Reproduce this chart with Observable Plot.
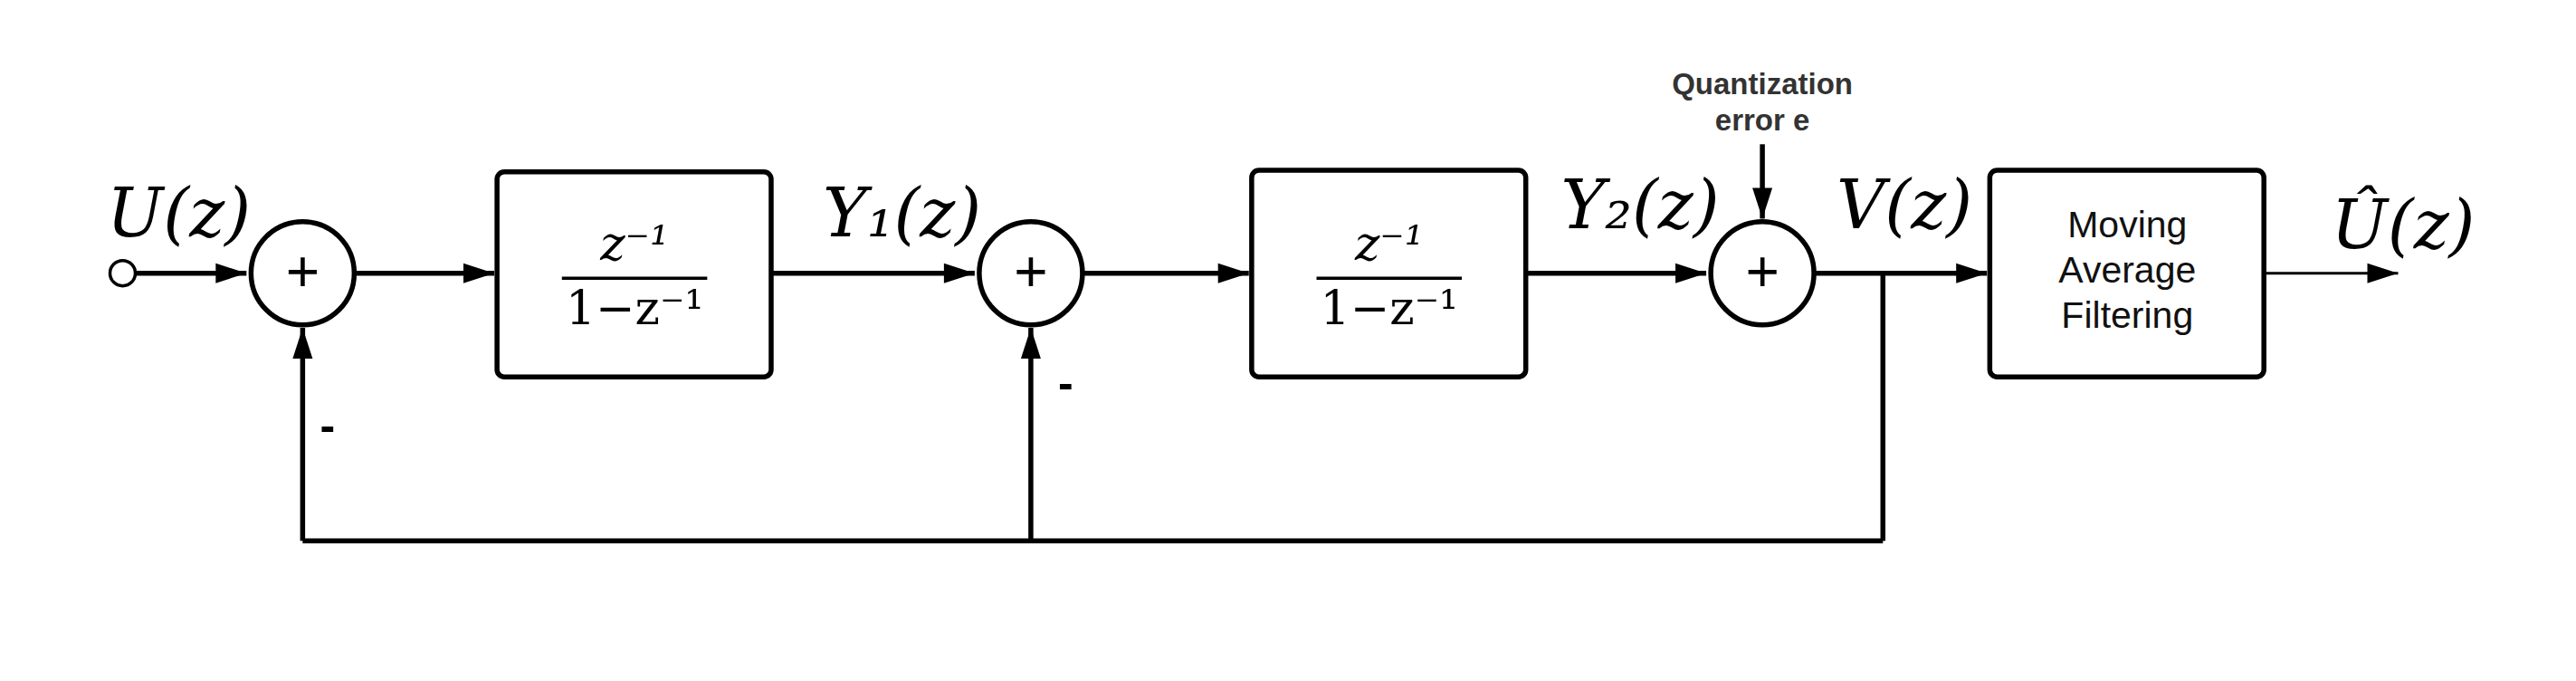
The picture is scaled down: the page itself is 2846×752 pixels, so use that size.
<!DOCTYPE html>
<html>
<head>
<meta charset="utf-8">
<script src="https://cdn.jsdelivr.net/npm/d3@7"></script>
<script src="https://cdn.jsdelivr.net/npm/@observablehq/plot@0.6"></script>
<style>body{margin:0;background:#fff}</style>
</head>
<body>
<div id="chart"></div>
<script>
// diagram laid out in a 1560 x 412 unit grid
const sums = [{x: 183, y: 165}, {x: 624, y: 165}, {x: 1067, y: 165}];
const blocks = [
  {x1: 301, x2: 467, y1: 104, y2: 228},
  {x1: 758, x2: 924, y1: 103, y2: 228},
  {x1: 1205, x2: 1371, y1: 103, y2: 228}
];
const wires = [
  [82, 165, 149, 165], [214, 165, 299, 165], [467, 165, 590, 165],
  [655, 165, 756, 165], [924, 165, 1033, 165], [1098, 165, 1203, 165],
  [1067, 87, 1067, 132],
  [1140, 165, 1140, 327], [1140, 327, 183, 327], [183, 327, 183, 198],
  [624, 327, 624, 198]
];
const outWire = [[1371, 165, 1452, 165]];
const heads = [
  [149, 165, 90], [299, 165, 90], [590, 165, 90], [756, 165, 90],
  [1033, 165, 90], [1203, 165, 90], [1452, 165, 90],
  [1067, 132, 180], [183, 198, 0], [624, 198, 0]
];
const mathLabels = [
  {x: 108, y: 130, t: "U(z)"}, {x: 546, y: 130, t: "Y₁(z)"},
  {x: 993, y: 125, t: "Y₂(z)"}, {x: 1153, y: 125, t: "V(z)"},
  {x: 1455, y: 137, t: "Û(z)"}
];
const fractions = [{x: 384}, {x: 841}];
const filterText = ["Moving", "Average", "Filtering"];
const minus = [{x: 198, y: 258}, {x: 645, y: 232}];

const tri = {draw(ctx, l, r) { ctx.moveTo(0, -l); ctx.lineTo(-11, 0); ctx.lineTo(11, 0); ctx.closePath(); }};
const serif = "DejaVu Serif";

const chart = Plot.plot({
  width: 2846, height: 752, margin: 0,
  x: {domain: [0, 1560], axis: null},
  y: {domain: [412, 0], axis: null},
  marks: [
    Plot.link(wires, {x1: d => d[0], y1: d => d[1], x2: d => d[2], y2: d => d[3], stroke: "black", strokeWidth: 5.5}),
    Plot.link(outWire, {x1: d => d[0], y1: d => d[1], x2: d => d[2], y2: d => d[3], stroke: "black", strokeWidth: 3}),
    Plot.vector(heads, {x: d => d[0], y: d => d[1], rotate: d => d[2], length: 34, anchor: "end", shape: tri, fill: "black", stroke: "none"}),
    Plot.dot([{x: 74, y: 165}], {x: "x", y: "y", r: 14, fill: "white", stroke: "black", strokeWidth: 3.5}),
    Plot.dot(sums, {x: "x", y: "y", r: 57, fill: "white", stroke: "black", strokeWidth: 5.5}),
    Plot.text(sums, {x: "x", y: "y", text: () => "+", fontSize: 64, fontFamily: "Liberation Sans", fill: "black"}),
    Plot.rect(blocks, {x1: "x1", x2: "x2", y1: "y1", y2: "y2", fill: "white", stroke: "black", strokeWidth: 5.5, rx: 8}),
    Plot.text(fractions, {x: "x", y: 148, text: () => "z⁻¹", fontSize: 52, fontFamily: serif, fontStyle: "italic", fill: "black"}),
    Plot.link(fractions, {x1: d => d.x - 44, x2: d => d.x + 44, y1: 168, y2: 168, stroke: "black", strokeWidth: 3.5}),
    Plot.text(fractions, {x: "x", y: 187, text: () => "1−z⁻¹", fontSize: 52, fontFamily: serif, fill: "black"}),
    Plot.text(filterText, {x: 1288, y: (d, i) => 136 + i * 27.5, text: d => d, fontSize: 41, fontFamily: "Liberation Sans", fill: "#111"}),
    Plot.text(mathLabels, {x: "x", y: "y", text: "t", fontSize: 74, fontFamily: serif, fontStyle: "italic", fill: "black"}),
    Plot.text(["Quantization", "error e"], {x: 1067, y: (d, i) => 51 + i * 22, text: d => d, fontSize: 33, fontWeight: "bold", fontFamily: "Liberation Sans", fill: "#333"}),
    Plot.text(minus, {x: "x", y: "y", text: () => "-", fontSize: 50, fontWeight: "bold", fontFamily: "Liberation Sans", fill: "black"})
  ]
});
document.getElementById("chart").append(chart);
</script>
</body>
</html>
